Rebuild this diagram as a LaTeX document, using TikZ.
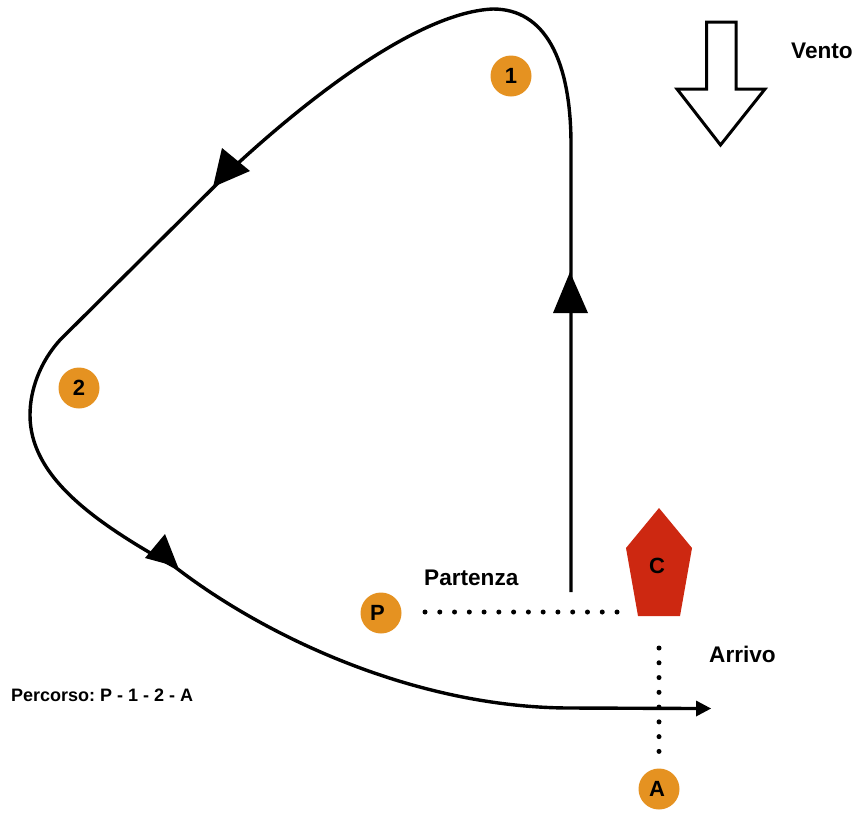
\documentclass[tikz,border=0pt]{standalone}
\usepackage{fontspec}
\setmainfont{Liberation Sans}
\frenchspacing
\definecolor{orangec}{RGB}{229,146,33}
\definecolor{redc}{RGB}{205,40,17}
\tikzset{
 x=1pt,y=-1pt,
 badge/.style={circle,fill=orangec,minimum size=41pt,inner sep=0pt,font=\fontsize{22}{22}\selectfont\bfseries},
 lab/.style={inner sep=0pt,font=\fontsize{22.6}{24}\selectfont\bfseries},
 route/.style={line width=3.4pt,black},
 dots/.style={line width=5pt,line cap=round,dash pattern=on 0pt off 14.77pt},
 head/.style={fill=black,draw=none}
}
\begin{document}
\begin{tikzpicture}
\useasboundingbox (0,0) rectangle (858,812);
\coordinate (s) at (571,592);
\coordinate (a1) at (571,145);
\coordinate (a2) at (493,9);
\coordinate (a3) at (60,340);
\coordinate (a35) at (30,415);
\coordinate (a4) at (175,567);
\coordinate (a5) at (571,708);
\coordinate (e) at (711,708.5);
\draw[route] (s) -- (a1)
  .. controls (571,60) and (545,9) .. (a2)
  .. controls (420,12) and (312,95) .. (235,166)
  -- (a3)
  .. controls (40,362) and (30,390) .. (a35)
  .. controls (30,475) and (90,520) .. (a4)
  .. controls (270,640) and (420,708) .. (a5)
  -- (698,708.5);
\fill[head] (e) -- (696,700.5) -- (696,716.5) -- cycle;
\fill[head] (570,272) -- (553,313) -- (588,313) -- cycle;
\fill[head] (222,148) -- (250,171) -- (213,187) -- cycle;
\fill[head] (165,534) -- (145,558) -- (178,567) -- cycle;
\node[badge] (n1) at (511,76) {1};
\node[badge] (n2) at (79,388) {2};
\node[badge] (nP) at (381,613) {P\kern7pt};
\node[badge] (nA) at (659,789) {A\kern4pt};
\fill[redc] (659,508) -- (692,548) -- (680,616) -- (638,616) -- (626,548) -- cycle;
\node[inner sep=0pt,font=\fontsize{22}{22}\selectfont\bfseries] (nC) at (657,566) {C};
\coordinate (d1) at (425,612);
\coordinate (d2) at (618,612);
\draw[dots] (d1) -- (d2);
\coordinate (d3) at (659,648);
\coordinate (d4) at (659,752);
\draw[dots] (d3) -- (d4);
\node[lab,anchor=west] (part) at (424,578) {Partenza};
\node[lab,anchor=west] (arr) at (709,654) {Arrivo};
\node[lab,anchor=west] (ven) at (791,51) {Vento};
\node[inner sep=0pt,anchor=west,font=\fontsize{18}{19}\selectfont\bfseries] (perc) at (11,695) {Percorso: P - 1 - 2 - A};
\draw[line width=3pt,fill=white,miter limit=10] (706.5,22) -- (736,22) -- (736,89) -- (765,89) -- (720.5,145) -- (677,89) -- (706.5,89) -- cycle;
\end{tikzpicture}
\end{document}
